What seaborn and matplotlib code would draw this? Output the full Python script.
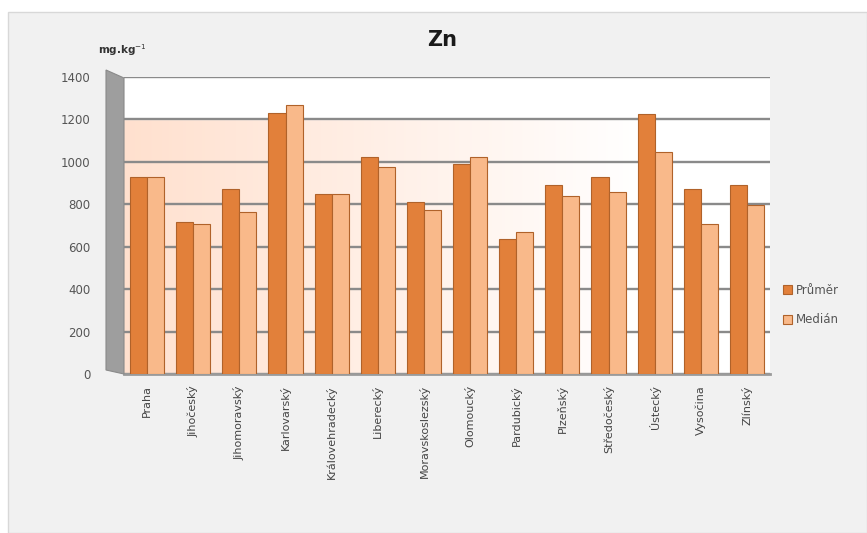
import numpy as np
import pandas as pd
import matplotlib
matplotlib.use("Agg")
import matplotlib.pyplot as plt
from matplotlib.patches import Rectangle, Polygon
import seaborn as sns

regions = ["Praha", "Jihočeský", "Jihomoravský", "Karlovarský", "Královehradecký",
           "Liberecký", "Moravskoslezský", "Olomoucký", "Pardubický", "Plzeňský",
           "Středočeský", "Ústecký", "Vysočina", "Zlínský"]
prumer = [930, 715, 870, 1230, 850, 1025, 810, 990, 635, 890, 930, 1225, 870, 890]
median = [930, 705, 765, 1270, 850, 975, 775, 1025, 670, 840, 860, 1045, 705, 795]
series = ["Průměr", "Medián"]
yticks = [0, 200, 400, 600, 800, 1000, 1200, 1400]

df = pd.DataFrame({
    "region": regions * 2,
    "value": prumer + median,
    "series": [series[0]] * len(regions) + [series[1]] * len(regions),
})

sns.set_theme(style="white")
plt.rcParams['font.family'] = ['DejaVu Sans']

fig = plt.figure(figsize=(8.67, 5.33), dpi=100, facecolor="white")
fig.patches.append(Rectangle((8 / 867, 0), 1 - 8 / 867, 1 - 12 / 533, transform=fig.transFigure,
                             facecolor="#f1f1f1", edgecolor="#d8d8d8", lw=1.0, zorder=-10))

ax = fig.add_axes([124 / 867, 1 - 374 / 533, (770 - 124) / 867, (374 - 77) / 533])
ax.set_facecolor("none")

# background gradient (peach to white)
grad = np.linspace(0, 1, 256)
alpha = np.clip(1 - grad / 0.8, 0, 1)
img = np.ones((1, 256, 4))
img[..., 0] = 1.0
img[..., 1] = 0.88 + 0.12 * (1 - alpha)
img[..., 2] = 0.81 + 0.19 * (1 - alpha)
ax.imshow(img, extent=(-0.5, len(regions) - 0.5, 0, 1200), aspect="auto", zorder=0)
ax.axhspan(1200, 1400, color="white", zorder=0.1)

palette = {"Průměr": "#e2803a", "Medián": "#f9b98a"}
sns.barplot(data=df, x="region", y="value", hue="series", palette=palette,
            width=0.74, gap=0, saturation=1, edgecolor="#b0622a", linewidth=0.8,
            ax=ax, zorder=3)

ax.set_ylim(0, 1400)
ax.set_xlim(-0.5, len(regions) - 0.5)
ax.set_yticks(yticks)
ax.yaxis.grid(True, color="#8a8a8a", lw=1.7, zorder=1)
ax.set_axisbelow(True)
for s in ["top", "right", "left"]:
    ax.spines[s].set_visible(False)
ax.spines["bottom"].set_color("#9a9a9a")
ax.spines["bottom"].set_linewidth(2)
ax.set_xlabel("")
ax.set_ylabel("")
ax.tick_params(axis="y", labelsize=8.5, labelcolor="#555555", pad=24, length=0)
ax.tick_params(axis="x", labelsize=8, labelcolor="#444444", rotation=90, length=0, pad=8)

# 3D side wall
wall = Polygon([[106 / 867, 1 - 70 / 533], [124 / 867, 1 - 78 / 533],
                [124 / 867, 1 - 374 / 533], [106 / 867, 1 - 370 / 533]],
               closed=True, transform=fig.transFigure, facecolor="#9e9e9e",
               edgecolor="#8a8a8a", lw=0.8, zorder=5)
fig.patches.append(wall)

ax.get_legend().remove()
handles = [Rectangle((0, 0), 1, 1, facecolor=palette[s], edgecolor="#b0622a", lw=0.8) for s in series]
fig.legend(handles, series, loc="center left", bbox_to_anchor=(772 / 867, 1 - 305 / 533),
           frameon=False, fontsize=8.5, labelcolor="#555555", handlelength=0.8,
           handleheight=0.8, handletextpad=0.3, labelspacing=1.4)

fig.text(442 / 867, 1 - 40 / 533, "Zn", ha="center", va="center", fontsize=15,
         fontweight="bold", color="#1a1a1a")
fig.text(98 / 867, 1 - 50 / 533, "mg.kg$^{-1}$", ha="left", va="center", fontsize=7.5,
         fontweight="bold", color="#333333")

fig.savefig("out.png", dpi=100, facecolor=fig.get_facecolor())
